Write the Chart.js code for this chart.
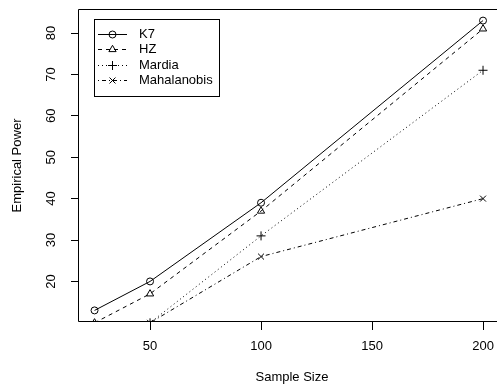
<!DOCTYPE html>
<html><head><meta charset="utf-8">
<script src="https://cdn.jsdelivr.net/npm/chart.js@4"></script>
<style>html,body{margin:0;padding:0;overflow:hidden;background:#fff;width:497px;height:387px}canvas{position:absolute;left:0;top:0}</style>
</head><body><canvas id="c" width="520" height="387" style="width:520px;height:387px"></canvas>
<script>
// ---- data ----
const sampleSizes = [25, 50, 100, 200];
const k7 = [13, 20, 39, 83];
const hz = [10, 17, 37, 81];
const mardia = [6, 10, 31, 71];
const mahalanobis = [7, 10, 26, 40];
const seriesNames = ['K7', 'HZ', 'Mardia', 'Mahalanobis'];
const xTicks = [50, 100, 150, 200];
const yTicks = [20, 30, 40, 50, 60, 70, 80];
const xTitle = 'Sample Size';
const yTitle = 'Empirical Power';

// ---- styles ----
const FONT = 'Liberation Sans, Arial, Helvetica, sans-serif';
const FS = 13;
const seriesValues = [k7, hz, mardia, mahalanobis];
const seriesStyles = [
  {dash: [], point: 'circle', r: 3.5},
  {dash: [4, 4], point: 'triangle', r: 4.2},
  {dash: [1, 3], point: 'cross', r: 4.5},
  {dash: [1, 3, 4, 3], point: 'crossRot', r: 4.2}
];

const datasets = seriesNames.map((name, i) => ({
  label: name,
  data: sampleSizes.map((x, j) => ({x: x, y: seriesValues[i][j]})),
  borderColor: '#000',
  borderWidth: 1,
  borderDash: seriesStyles[i].dash,
  pointStyle: seriesStyles[i].point,
  pointRadius: seriesStyles[i].r,
  pointBorderColor: '#000',
  pointBackgroundColor: 'rgba(0,0,0,0)',
  pointBorderWidth: 1,
  tension: 0,
  fill: false,
  clip: 0
}));

const boxPlugin = {
  id: 'rbox',
  afterDatasetsDraw(chart) {
    const {ctx, chartArea: a} = chart;
    const l = Math.round(a.left) - 0.5, t = Math.round(a.top) + 0.5, b = Math.round(a.bottom) - 0.5;
    const r = chart.width;
    ctx.save();
    ctx.strokeStyle = '#000';
    ctx.lineWidth = 1;
    ctx.beginPath();
    ctx.moveTo(r, t); ctx.lineTo(l, t); ctx.lineTo(l, b); ctx.lineTo(r, b);
    ctx.stroke();
    ctx.restore();
  }
};

const legendPlugin = {
  id: 'rlegend',
  afterDraw(chart) {
    const ctx = chart.ctx;
    const bx = 94.5, by = 19.5, bw = 125, bh = 77;
    ctx.save();
    ctx.fillStyle = '#fff';
    ctx.fillRect(bx, by, bw, bh);
    ctx.strokeStyle = '#000';
    ctx.lineWidth = 1;
    ctx.strokeRect(bx, by, bw, bh);
    ctx.font = FS + 'px ' + FONT;
    ctx.textBaseline = 'middle';
    ctx.textAlign = 'left';
    chart.data.datasets.forEach((ds, i) => {
      const y = Math.round(34 + i * 15.3) + 0.5;
      ctx.strokeStyle = '#000';
      ctx.setLineDash(ds.borderDash);
      ctx.beginPath();
      ctx.moveTo(98, y);
      ctx.lineTo(127, y);
      ctx.stroke();
      ctx.setLineDash([]);
      ctx.fillStyle = 'rgba(0,0,0,0)';
      Chart.helpers.drawPoint(ctx, {pointStyle: ds.pointStyle, radius: ds.pointRadius, rotation: 0, borderWidth: 1}, 112.5, y);
      ctx.fillStyle = '#000';
      ctx.fillText(ds.label, 139, y);
    });
    ctx.restore();
  }
};

new Chart(document.getElementById('c'), {
  type: 'line',
  data: {datasets: datasets},
  options: {
    responsive: false,
    animation: false,
    events: [],
    layout: {padding: {top: 9, right: 15, left: 0, bottom: 0}},
    plugins: {legend: {display: false}, tooltip: {enabled: false}},
    scales: {
      x: {
        type: 'linear',
        min: 18, max: 209.9,
        afterBuildTicks: s => { s.ticks = xTicks.map(v => ({value: v})); },
        afterFit: s => { s.height = 65; s.paddingLeft = 0; s.paddingRight = 0; },
        grid: {drawOnChartArea: false, drawTicks: true, tickLength: 8, color: '#000'},
        border: {display: false},
        ticks: {color: '#000', font: {family: FONT, size: FS}, padding: 9, maxRotation: 0, autoSkip: false},
        title: {display: true, text: xTitle, color: '#000', font: {family: FONT, size: FS}, padding: {top: 0, bottom: 2}}
      },
      y: {
        type: 'linear',
        min: 10.2, max: 85.8,
        afterBuildTicks: s => { s.ticks = yTicks.map(v => ({value: v})); },
        afterFit: s => { s.width = 79; s.paddingTop = 0; s.paddingBottom = 0; },
        grid: {drawOnChartArea: false, drawTicks: true, tickLength: 8, color: '#000'},
        border: {display: false},
        ticks: {color: '#000', font: {family: FONT, size: FS}, padding: 12, minRotation: 90, maxRotation: 90, crossAlign: 'center', autoSkip: false},
        title: {display: true, text: yTitle, color: '#000', font: {family: FONT, size: FS}, padding: {top: 10, bottom: 0}}
      }
    }
  },
  plugins: [boxPlugin, legendPlugin]
});
</script>
</body></html>
